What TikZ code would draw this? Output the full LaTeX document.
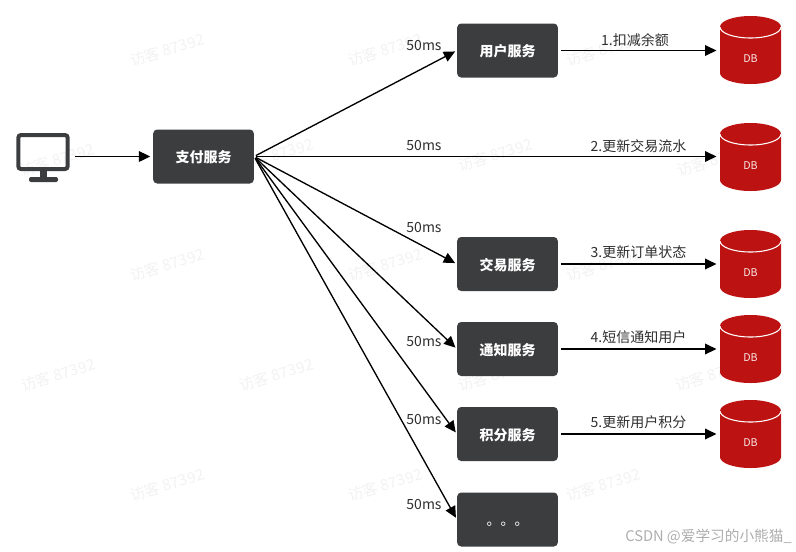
\documentclass[tikz,border=0pt]{standalone}
\usepackage{fontspec}
\setmainfont{Noto Sans CJK SC}
\usetikzlibrary{arrows.meta}

\begin{document}
\begin{tikzpicture}
		[x=0.75pt,y=-0.75pt,line cap=butt,>={Triangle[length=8.5pt,width=8pt]},
		%Styles
		service/.style={rectangle,rounded corners=3pt,fill=boxgray,text=white,minimum width=75.5pt,minimum height=40.5pt,inner sep=0pt,text height=10.5pt,text depth=1pt,font=\fontsize{10.5pt}{12pt}\selectfont\bfseries},
		db/.style={rectangle,minimum width=45.75pt,minimum height=51pt,inner sep=0pt,label={[db text]center:DB}},
		db text/.style={inner sep=0pt,yshift=-6.75pt,text=white!90!dbred,font=\fontsize{8pt}{10pt}\selectfont},
		link/.style={->,line width=1pt,black},
		time label/.style={inner sep=0pt,text=textgray,font=\fontsize{10.5pt}{12pt}\selectfont},
		watermark/.style={inner sep=0pt,rotate=17,text=black!5,font=\fontsize{11.5pt}{13pt}\selectfont}
		]
		
		%Colors
		\definecolor{boxgray}{HTML}{3C3D3F}
		\definecolor{dbred}{HTML}{BD1212}
		\definecolor{textgray}{HTML}{2E2E2E}
		
		\useasboundingbox (0,0) rectangle (796,551);
		
		%Watermarks
		\foreach \x/\y [count=\i] in {167/50,385/50,603/50,57/160,276/155,495/155,714/160,167/265,385/265,603/265,58/375,276/375,495/375,712/375,167/485,385/485,603/485}
			\node[watermark] (mark\i) at (\x,\y) {访客 87392};
		
		%The graphic
		\node[rectangle,rounded corners=2pt,draw=boxgray,line width=3pt,minimum width=37pt,minimum height=25.5pt,inner sep=0pt] (screen) at (43,152) {};
		\fill[boxgray] (40,170) rectangle (47,178);
		\fill[boxgray,rounded corners=1.5pt] (29,177) rectangle (58,182);
		
		\node[service] (pay) at (203.5,156.5) {支付服务};
		\node[service] (user) at (507.5,50.5) {用户服务};
		\node[service] (trade) at (507.5,264) {交易服务};
		\node[service] (notice) at (507.5,349) {通知服务};
		\node[service] (score) at (507.5,434) {积分服务};
		\node[service,font=\fontsize{10.5pt}{12pt}\selectfont] (more) at (507.5,519.5) {。。。};
		
		\foreach \n/\y in {1/50,2/157,3/264,4/349,5/434}{
			\fill[dbred] (720,\y-23) arc[start angle=180,end angle=0,x radius=22.875pt,y radius=8.25pt]
				-- (781,\y+23) arc[start angle=0,end angle=-180,x radius=22.875pt,y radius=8.25pt] -- cycle;
			\draw[white,line width=0.8pt] (720,\y-23) arc[start angle=180,end angle=360,x radius=22.875pt,y radius=8.25pt];
			\node[db] (db\n) at (750.5,\y) {};
		}
		
		\draw[link,shorten <=4pt,shorten >=2pt] (screen.east |- pay.west) -- (pay.west);
		
		\path[link,shorten <=1.5pt]
			(pay.east)	edge[shorten >=1.5pt] (user.west)
				edge[shorten >=2.5pt] (pay.east -| db2.west)
				edge[shorten >=1.5pt] (trade.west)
				edge[shorten >=1.5pt] (notice.west)
				edge[shorten >=1.5pt] (score.west)
				edge[shorten >=1.5pt] (more.west);
		
		\path[link,shorten <=2pt,shorten >=2.5pt]
			(user.east) edge (user.east -| db1.west)
			(trade.east) edge (trade.east -| db3.west)
			(notice.east) edge (notice.east -| db4.west)
			(score.east) edge (score.east -| db5.west);
		
		\node[time label] (t1) at (424,46) {50ms};
		\node[time label] (t2) at (424,146) {50ms};
		\node[time label] (t3) at (424,228) {50ms};
		\node[time label] (t4) at (424,341) {50ms};
		\node[time label] (t5) at (424,419) {50ms};
		\node[time label] (t6) at (424,504) {50ms};
		
		\node[time label] (step1) at (635,40) {1.扣减余额};
		\node[time label] (step2) at (638.5,146) {2.更新交易流水};
		\node[time label] (step3) at (638.5,252) {3.更新订单状态};
		\node[time label] (step4) at (638.5,337) {4.短信通知用户};
		\node[time label] (step5) at (638.5,422) {5.更新用户积分};
		
		\node[inner sep=0pt,text=black!32,font=\fontsize{11pt}{13pt}\selectfont] (csdn) at (708.5,537) {CSDN @爱学习的小熊猫\_};
	\end{tikzpicture}
\end{document}
